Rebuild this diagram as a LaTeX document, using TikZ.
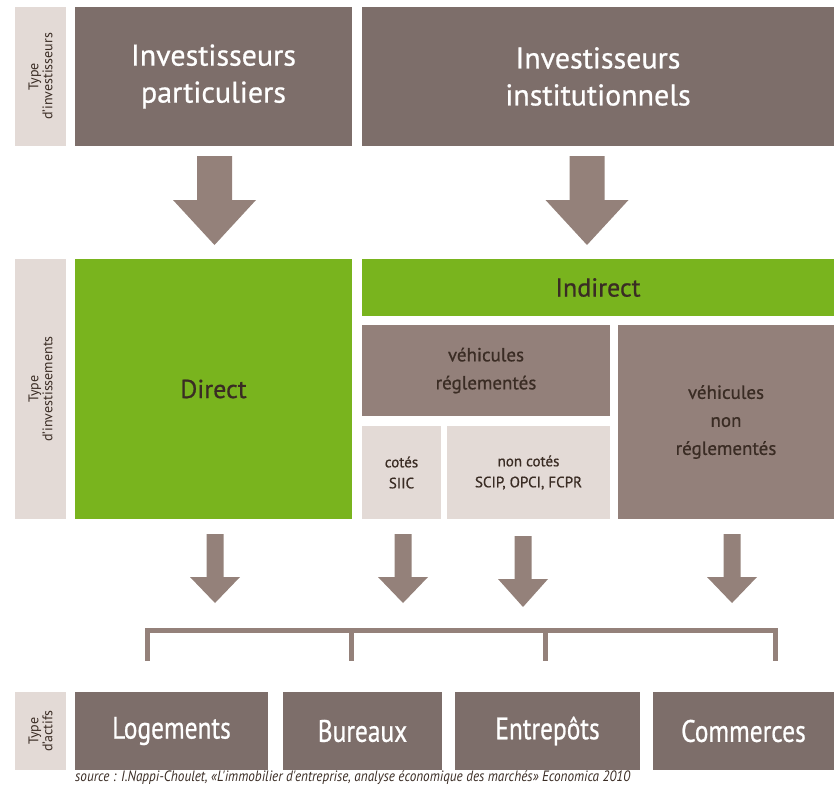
\documentclass[tikz,border=0pt]{standalone}
\usepackage{fontspec}
\setmainfont{PT Sans}
\newfontfamily\medfont[FakeBold=0.7]{PT Sans}
\newfontfamily\condfont[FakeStretch=0.82,FakeBold=0.7]{PT Sans}
\newfontfamily\srcfont[FakeStretch=0.88]{PT Sans}
\definecolor{topbrown}{HTML}{7D6E6A}
\definecolor{midbrown}{HTML}{93807A}
\definecolor{arrowbrown}{HTML}{94817A}
\definecolor{lightbox}{HTML}{E3DAD6}
\definecolor{leafgreen}{HTML}{79B41E}
\definecolor{darktext}{HTML}{3A2C24}
\tikzset{
  box/.style={rectangle, inner sep=0pt, align=center},
  labelbox/.style={box, fill=lightbox},
  labeltext/.style={rotate=90, align=center, text=darktext, font=\fontsize{14}{14}\selectfont},
  bigbox/.style={box, fill=topbrown, text=white, font=\medfont\fontsize{30}{37}\selectfont},
  greenbox/.style={box, fill=leafgreen, text=darktext, font=\medfont\fontsize{26}{30}\selectfont},
  vehbox/.style={box, fill=midbrown, text=darktext, font=\medfont\fontsize{19}{28}\selectfont},
  smallbox/.style={box, fill=lightbox, text=darktext, font=\medfont\fontsize{15}{21}\selectfont},
  assetbox/.style={box, fill=topbrown, text=white, font=\condfont\fontsize{31}{34}\selectfont},
  bracket/.style={draw=arrowbrown, line width=5pt},
}
% block arrow: center x, top y, shaft width, head width, head start y, tip y
\newcommand{\blockarrow}[6]{%
  \fill[arrowbrown] (#1-#3/2,#2) -- (#1+#3/2,#2) -- (#1+#3/2,#5) -- (#1+#4/2,#5)
    -- (#1,#6) -- (#1-#4/2,#5) -- (#1-#3/2,#5) -- cycle;}
\begin{document}
\begin{tikzpicture}[x=1pt,y=-1pt]
\useasboundingbox (0,0) rectangle (834,784);
% row 1
\node[labelbox, minimum width=51, minimum height=139] (l1) at (40.5,76.5) {};
\node[labeltext] (l1t) at (l1.center) {Type\\d'investisseurs};
\node[bigbox, minimum width=277, minimum height=139] (ip) at (213.5,76.5) {Investisseurs\\particuliers};
\node[bigbox, minimum width=472, minimum height=139] (ii) at (598,76.5) {Investisseurs\\institutionnels};
% big arrows
\blockarrow{214.5}{156}{35}{83}{200}{245}
\blockarrow{587}{156}{35}{83}{200}{245}
% row 2
\node[labelbox, minimum width=51, minimum height=260] (l2) at (40.5,389) {};
\node[labeltext] (l2t) at (l2.center) {Type\\d'investissements};
\node[greenbox, minimum width=277, minimum height=260] (direct) at (213.5,389) {Direct};
\node[greenbox, minimum width=472, minimum height=57] (indirect) at (598,287.5) {Indirect};
\node[vehbox, minimum width=248, minimum height=91] (vr) at (486,370.5) {véhicules\\réglementés};
\node[vehbox, minimum width=216, minimum height=194] (vnr) at (726,422) {véhicules\\non\\réglementés};
\node[smallbox, minimum width=79, minimum height=93] (cotes) at (401.5,472.5) {cotés\\SIIC};
\node[smallbox, minimum width=163, minimum height=93] (noncotes) at (528.5,472.5) {non cotés\\SCIP, OPCI, FCPR};
% small arrows
\blockarrow{215}{534}{17}{50}{577}{603}
\blockarrow{403}{534}{17}{50}{577}{603}
\blockarrow{523}{536}{17}{50}{579}{607}
\blockarrow{732}{534}{17}{50}{577}{603}
% bracket
\coordinate (b0) at (147,628);
\coordinate (b1) at (351,628);
\coordinate (b2) at (545,628);
\coordinate (b3) at (775,628);
\draw[bracket] ([yshift=-2.5pt]b0) -- ([yshift=-2.5pt]b3);
\draw[bracket] (b0) -- ++(0,33);
\draw[bracket] (b1) -- ++(0,33);
\draw[bracket] (b2) -- ++(0,33);
\draw[bracket] (b3) -- ++(0,33);
% row 3
\node[labelbox, minimum width=51, minimum height=78] (l3) at (40.5,731) {};
\node[labeltext] (l3t) at (l3.center) {Type\\d'actifs};
\node[assetbox, minimum width=193, minimum height=78] (log) at (171.5,731) {Logements};
\node[assetbox, minimum width=159, minimum height=78] (bur) at (362.5,731) {Bureaux};
\node[assetbox, minimum width=185, minimum height=78] (ent) at (547.5,731) {Entrepôts};
\node[assetbox, minimum width=181, minimum height=78] (com) at (743.5,731) {Commerces};
\node[anchor=west, inner sep=0pt, text=darktext, font=\srcfont\itshape\fontsize{15}{15}\selectfont] (src) at (75,777.5) {source : I.Nappi-Choulet, «L'immobilier d'entreprise, analyse économique des marchés» Economica 2010};
\end{tikzpicture}
\end{document}
